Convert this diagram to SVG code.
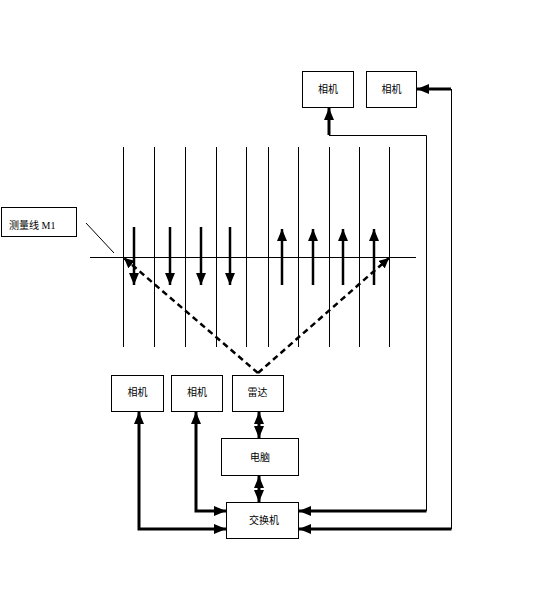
<svg xmlns="http://www.w3.org/2000/svg" width="560" height="595" viewBox="0 0 560 595">
<defs>
<style>
.box{fill:#fff;stroke:#000;stroke-width:1}
.t{font-family:"Noto Sans CJK SC","Liberation Sans",sans-serif;font-size:10px;text-anchor:middle;fill:#000}
.lbl{font-family:"Liberation Serif","Noto Sans CJK SC",serif;font-size:10px;fill:#000}
.thin{fill:none;stroke:#000;stroke-width:1}
.thick{fill:none;stroke:#000;stroke-width:3}
.arr{fill:none;stroke:#000;stroke-width:2.5;marker-end:url(#ah)}
.dash{fill:none;stroke:#000;stroke-width:2.5;stroke-dasharray:6 4;marker-end:url(#dh)}
</style>
<marker id="ah" viewBox="0 0 12 10" markerWidth="12" markerHeight="10" refX="12" refY="5" orient="auto-start-reverse" markerUnits="userSpaceOnUse">
<path d="M0,0 L12,5 L0,10 z" fill="#000"/>
</marker>
<marker id="dh" viewBox="0 0 10 10" markerWidth="10" markerHeight="10" refX="10" refY="5" orient="auto" markerUnits="userSpaceOnUse">
<path d="M0,0 L10,5 L0,10 z" fill="#000"/>
</marker>
</defs>
<rect width="560" height="595" fill="#fff"/>

<g id="grid">
<path class="thin" d="M123.5,147V347M154.5,147V347M185.5,147V347M216.5,147V347M246.5,147V347M268.5,147V347M298.5,147V347M329.5,147V347M359.5,147V347M389.5,147V347"/>
<path class="thin" d="M90,257.5H416"/>
</g>

<g id="label-m1">
<rect class="box" x="1.5" y="207.5" width="75" height="29"/>
<text class="lbl" x="9" y="229">测量线 M1</text>
<path class="thin" d="M86,223L114,253"/>
</g>

<g id="camera-top-1"><rect class="box" x="302.5" y="71.5" width="51" height="36"/><text class="t" x="328" y="93">相机</text></g>
<g id="camera-top-2"><rect class="box" x="366.5" y="71.5" width="50" height="36"/><text class="t" x="391.5" y="93">相机</text></g>
<g id="camera-a"><rect class="box" x="111.5" y="375.5" width="52" height="36"/><text class="t" x="137.5" y="396">相机</text></g>
<g id="camera-b"><rect class="box" x="171.5" y="375.5" width="51" height="36"/><text class="t" x="197" y="396">相机</text></g>
<g id="radar"><rect class="box" x="232.5" y="375.5" width="51" height="36"/><text class="t" x="257.5" y="396">雷达</text></g>
<g id="computer"><rect class="box" x="221.5" y="438.5" width="77" height="37"/><text class="t" x="260" y="461">电脑</text></g>
<g id="switch"><rect class="box" x="226.5" y="502.5" width="72" height="36"/><text class="t" x="264" y="524">交换机</text></g>

<g id="connectors">
<path class="arr" d="M134,227V285"/>
<path class="arr" d="M170,227V285"/>
<path class="arr" d="M201,227V285"/>
<path class="arr" d="M230,227V285"/>
<path class="arr" d="M282,285V229"/>
<path class="arr" d="M313,285V229"/>
<path class="arr" d="M343,285V229"/>
<path class="arr" d="M374,285V229"/>
<path class="dash" d="M258,373L124,258"/>
<path class="dash" d="M258,373L389,258"/>

<path class="thin" d="M426.5,511V135.5H329"/>
<path class="thick" d="M329,135V108" marker-end="url(#ah)"/>
<path class="thick" d="M426.5,511H299" marker-end="url(#ah)"/>

<path class="thick" d="M451,89H417" marker-end="url(#ah)"/>
<path class="thin" d="M451.5,89V529"/>
<path class="thick" d="M451.5,529H299" marker-end="url(#ah)"/>

<path class="thick" d="M139,412V529H226" marker-start="url(#ah)" marker-end="url(#ah)"/>
<path class="thick" d="M196,412V511H226" marker-start="url(#ah)" marker-end="url(#ah)"/>
<path class="thick" d="M259,412V438" marker-start="url(#ah)" marker-end="url(#ah)"/>
<path class="thick" d="M259,476V502" marker-start="url(#ah)" marker-end="url(#ah)"/>
</g>
</svg>
